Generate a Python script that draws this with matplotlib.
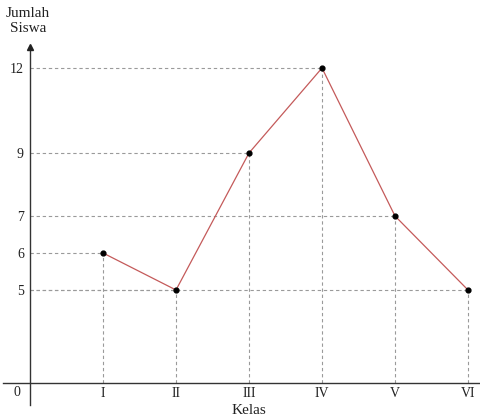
import numpy as np
import matplotlib
matplotlib.use("Agg")
import matplotlib.pyplot as plt

kelas = ["I", "II", "III", "IV", "V", "VI"]
siswa = [6, 5, 9, 12, 7, 5]
y_ticks = [5, 6, 7, 9, 12]

# the drawing is schematic: the y axis is not linear, so map values
# onto pixel heights
scale_vals = [-5, 0, 5, 6, 7, 9, 12, 20]
scale_pix = [-93, 0, 93, 130, 167, 230, 315, 541]


def fwd(v):
    return np.interp(v, scale_vals, scale_pix)


def inv(p):
    return np.interp(p, scale_pix, scale_vals)


plt.rcParams['font.family'] = ['Liberation Serif', 'DejaVu Serif']

fig = plt.figure(figsize=(4.8, 4.2), dpi=100)
ax = fig.add_axes([0, 0, 1, 1])
ax.set_yscale('function', functions=(fwd, inv))

x = np.arange(1, len(kelas) + 1)

# x: value 0 at pixel 30, step 73 px
ax.set_xlim(-30 / 73, 450 / 73)
ax.set_ylim(inv(-37), inv(383))

# guide lines
for xi, yi in zip(x, siswa):
    ax.plot([0, xi], [yi, yi], ls=(0, (3, 2.5)), color='#9a9a9a', lw=0.8, zorder=1)
    ax.plot([xi, xi], [0, yi], ls=(0, (3, 2.5)), color='#9a9a9a', lw=0.8, zorder=1)

ax.plot(x, siswa, color='#c45a5a', lw=0.9, zorder=2)
ax.scatter(x, siswa, s=12, color='black', zorder=3)

# axes
for s in ['top', 'right']:
    ax.spines[s].set_visible(False)
ax.spines['left'].set_position(('data', 0))
ax.spines['bottom'].set_position(('data', 0))
ax.spines['left'].set_bounds(inv(-22), inv(336))
ax.spines['bottom'].set_bounds(-27 / 73, 450 / 73)
for s in ['left', 'bottom']:
    ax.spines[s].set_color('#333333')
    ax.spines[s].set_linewidth(1.0)
ax.plot([0], [inv(336)], marker='^', color='#222222', ms=5, clip_on=False, zorder=4)

ax.set_xticks(x)
ax.set_xticklabels(kelas)
ax.set_yticks(y_ticks)
ax.set_yticklabels([str(v) for v in y_ticks])
ax.yaxis.set_minor_locator(matplotlib.ticker.NullLocator())
ax.tick_params(axis='both', length=0, labelsize=10, colors='#222222')
ax.tick_params(axis='x', pad=3)
ax.tick_params(axis='y', pad=4.5)

ax.text(-13 / 73, inv(-3), "0", ha='center', va='top', fontsize=10, color='#222222')
ax.text(-2 / 73, inv(362), "Jumlah\nSiswa", ha='center', va='center', fontsize=11,
        color='#222222', linespacing=1.25)
ax.text(3, inv(-28), "Kelas", ha='center', va='center', fontsize=11, color='#222222')

fig.savefig("out.png", dpi=100)
